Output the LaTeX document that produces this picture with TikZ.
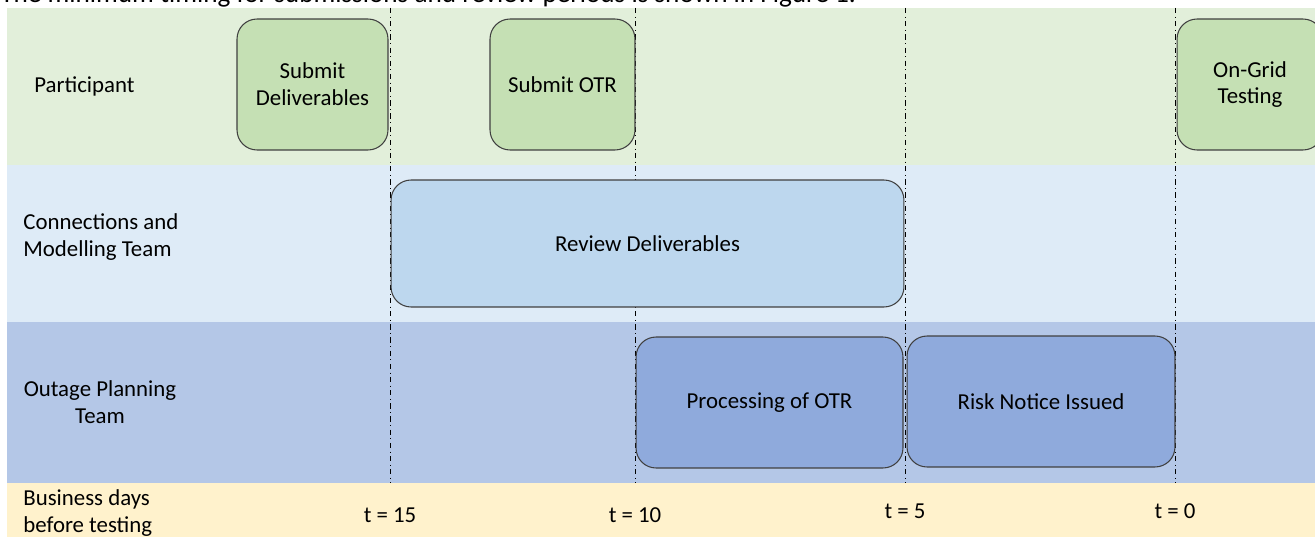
\documentclass[tikz,border=0pt]{standalone}
\usepackage{fontspec}
\setmainfont{Carlito}
\definecolor{partband}{HTML}{E2EFDA}
\definecolor{partbox}{HTML}{C5E0B4}
\definecolor{connband}{HTML}{DEEBF7}
\definecolor{connbox}{HTML}{BDD7EE}
\definecolor{outband}{HTML}{B4C7E7}
\definecolor{outbox}{HTML}{8FAADC}
\definecolor{dayband}{HTML}{FFF2CC}

\begin{document}
\begin{tikzpicture}[x=0.02cm, y=-0.02cm, font=\fontsize{13}{15.3}\selectfont,
  task/.style={draw=black!75, line width=0.6pt, rounded corners=0.4cm, align=center, inner sep=0pt},
  lanetext/.style={align=left, inner sep=0pt},
  timeline/.style={black, line width=0.5pt, dash dot}]
  \useasboundingbox (0,0) rectangle (1315,537);

  % lanes
  \fill[partband] (7,8) rectangle (1315,165);
  \fill[connband] (7,165) rectangle (1315,322);
  \fill[outband] (7,322) rectangle (1315,483);
  \fill[dayband] (7,483) rectangle (1315,537);

  \node[anchor=base west, inner sep=0pt, font=\fontsize{15.5}{18}\selectfont] (caption) at (0,3) {The minimum timing for submissions and review periods is shown in Figure 1.};

  \node[lanetext, anchor=west] (part) at (34,86) {Participant};
  \node[lanetext, anchor=west] (conn) at (23,237) {Connections and\\Modelling Team};
  \node[lanetext, align=center] (outage) at (100,402) {Outage Planning\\Team};
  \node[lanetext, anchor=west] (days) at (23,513) {Business days\\before testing};

  % time markers
  \foreach \x/\t/\y in {390/15/515, 635/10/515, 905/5/511, 1175/0/511} {
    \coordinate (top\t) at (\x,8);
    \coordinate (bot\t) at (\x,483);
    \draw[timeline] (top\t) -- (bot\t);
    \node (lab\t) at (\x,\y) {t = \t};
  }

  % tasks
  \node[task, fill=partbox, minimum width=3.02cm, minimum height=2.62cm] (subdel) at (312.5,84.5) {Submit\\Deliverables};
  \node[task, fill=partbox, minimum width=2.9cm, minimum height=2.62cm] (subotr) at (562.5,84.5) {Submit OTR};
  \node[task, fill=partbox, minimum width=2.92cm, minimum height=2.62cm] (ongrid) at (1250,84.5) {On-Grid\\Testing};
  \node[task, fill=connbox, minimum width=10.26cm, minimum height=2.54cm] (revdel) at (647.5,243.5) {Review Deliverables};
  \node[task, fill=outbox, minimum width=5.34cm, minimum height=2.62cm] (procotr) at (769.5,402.5) {Processing of OTR};
  \node[task, fill=outbox, minimum width=5.36cm, minimum height=2.62cm] (risk) at (1041,401.5) {Risk Notice Issued};
\end{tikzpicture}
\end{document}
